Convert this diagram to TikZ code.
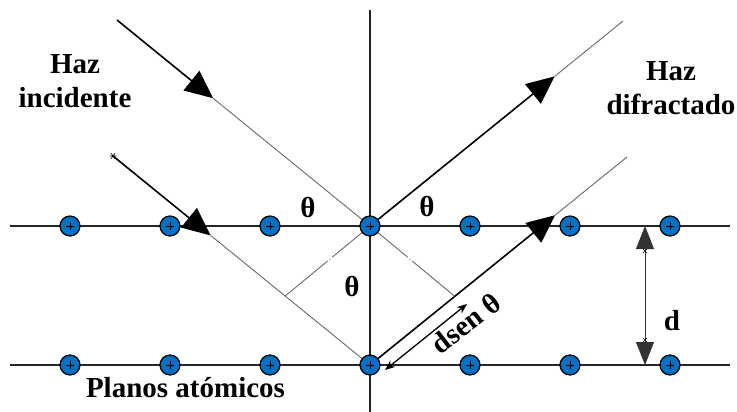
\documentclass[tikz,border=0pt]{standalone}
\usepackage{fontspec}
\setmainfont{Liberation Serif}
\usetikzlibrary{arrows.meta,calc}
\definecolor{atomblue}{RGB}{0,112,192}
\definecolor{thingray}{RGB}{105,105,105}
\begin{document}
\begin{tikzpicture}[x=1pt,y=-1pt,
  plane/.style={line width=1.6pt, draw=black!85},
  thickbeam/.style={line width=1.6pt, draw=black},
  thinbeam/.style={line width=0.9pt, draw=thingray},
  bigtip/.style={-{Triangle[length=28pt,width=25pt]}},
  perpline/.style={line width=0.9pt, draw=thingray, dash pattern=on 49pt off 2.5pt on 1pt off 2.5pt on 200pt},
  atom/.style={circle, draw=black, line width=1.2pt, fill=atomblue, minimum size=20pt, inner sep=0pt,
    path picture={\draw[line width=0.8pt]
      ([xshift=-4pt]path picture bounding box.center) -- ([xshift=4pt]path picture bounding box.center)
      ([yshift=-4pt]path picture bounding box.center) -- ([yshift=4pt]path picture bounding box.center);}},
  lbl/.style={font=\fontsize{29}{34}\selectfont\bfseries, inner sep=0pt}
]
\useasboundingbox (0,0) rectangle (737,412);

% key points
\coordinate (pl1) at (10,226);  \coordinate (pr1) at (730,226);
\coordinate (pl2) at (10,365);  \coordinate (pr2) at (730,365);
\coordinate (vt) at (370,10);   \coordinate (vb) at (370,412);
\coordinate (c1) at (370,226);  \coordinate (c2) at (370,365);
\coordinate (i1) at (117,20);
\coordinate (s2) at (113,156);
\coordinate (o1) at (623,21);
\coordinate (o2) at (627,157);

% planes and normal
\draw[plane] (pl1) -- (pr1);
\draw[plane] (pl2) -- (pr2);
\draw[plane] (vt) -- (vb);

% incident beams
\coordinate (a1) at ($(i1)!0.38!(c1)$);
\draw[thickbeam,bigtip] (i1) -- (a1);
\draw[thinbeam] (a1) -- (c1);
\coordinate (a2) at ($(s2)!0.38!(c2)$);
\draw[thickbeam,bigtip] (s2) -- (a2);
\draw[thinbeam] (a2) -- (c2);
\draw[line width=0.6pt] (s2) +(-3.5,0) -- +(3.5,0) (s2) +(-2.2,-3) -- +(2.2,3) (s2) +(-2.2,3) -- +(2.2,-3);

% diffracted beams
\coordinate (a3) at ($(c1)!0.73!(o1)$);
\draw[thickbeam,bigtip] (c1) -- (a3);
\draw[thinbeam] (a3) -- (o1);
\coordinate (a4) at ($(c2)!0.72!(o2)$);
\draw[thickbeam,bigtip] (c2) -- (a4);
\draw[thinbeam] (a4) -- (o2);

% construction lines
\coordinate (f1) at ($(c2)!0.33!(s2)$);
\coordinate (f2) at ($(c2)!0.33!(o2)$);
\draw[perpline] (c1) -- (f1);
\draw[perpline] (c1) -- (f2);

% d arrow
\coordinate (dt) at (645,226); \coordinate (db) at (645,365);
\draw[line width=0.9pt, draw=black!80, {Triangle[length=23pt,width=18pt]}-{Triangle[length=23pt,width=18pt]}] (dt) -- (db);
\draw[line width=0.5pt] (645,251) +(-2,-2) -- +(2,2) (645,251) +(-2,2) -- +(2,-2);
\draw[line width=0.5pt] (645,340) +(-2,-2) -- +(2,2) (645,340) +(-2,2) -- +(2,-2);

% dsen arrow
\coordinate (ds1) at (467,304); \coordinate (ds2) at (385,370);
\draw[line width=1.3pt, {Stealth[length=10pt,width=8pt]}-{Stealth[length=10pt,width=8pt]}] (ds1) -- (ds2);

% atoms
\foreach \i/\x in {1/70,2/170,3/270,4/370,5/470,6/570,7/670}{
  \node[atom] (t\i) at (\x,226) {};
  \node[atom] (b\i) at (\x,365) {};
}

% labels
\node[lbl, align=center] (hi) at (75,81) {Haz\\incidente};
\node[lbl, align=center] (hd) at (671,88) {Haz\\difractado};
\node[lbl] (th1) at (308,208) {θ};
\node[lbl] (th2) at (427,207) {θ};
\node[lbl] (th3) at (352,287) {θ};
\node[lbl, anchor=base] (pa) at (185.5,397) {Planos atómicos};
\node[lbl, anchor=base] (dl) at (672,330) {d};
\node[lbl, anchor=base, rotate=38] (dsn) at (472,331) {dsen θ};
\end{tikzpicture}
\end{document}
